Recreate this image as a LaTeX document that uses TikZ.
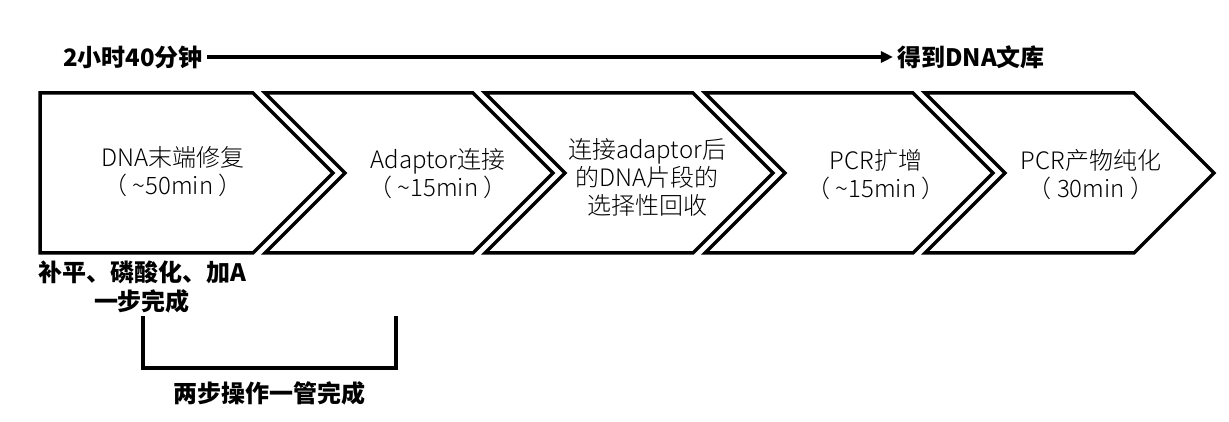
\documentclass[tikz,border=0pt]{standalone}
\usepackage{fontspec}
\setmainfont{Noto Sans CJK SC}
\newfontfamily\lightcjk{Noto Sans CJK SC Light}
\usetikzlibrary{arrows.meta}

\begin{document}
\begin{tikzpicture}[x=1pt,y=-1pt]
        \useasboundingbox (0,0) rectangle (1229,422);
        \begin{scope}[line width=3.5pt, line join=miter, draw=black]
            \draw (40,93) -- (253,93) -- (333,173) -- (253,253) -- (40,253) -- cycle;
            \draw (265,93) -- (473,93) -- (553,173) -- (473,253) -- (265,253) -- (345,173) -- cycle;
            \draw (485,93) -- (693,93) -- (773,173) -- (693,253) -- (485,253) -- (565,173) -- cycle;
            \draw (705,93) -- (913,93) -- (993,173) -- (913,253) -- (705,253) -- (785,173) -- cycle;
            \draw (925,93) -- (1134,93) -- (1214,173) -- (1134,253) -- (925,253) -- (1005,173) -- cycle;
            \draw (143,316) -- (143,368) -- (396,368) -- (396,316);
        \end{scope}
        \begin{scope}[every node/.style={align=center, font=\lightcjk\fontsize{24}{28}\selectfont}]
            \node (s1) at (173,172) {DNA末端修复\\（ \textasciitilde 50min ）};
            \node (s2) at (438,174) {Adaptor连接\\（ \textasciitilde 15min ）};
            \node (s3) at (647,177) {连接adaptor后\\的DNA片段的\\选择性回收};
            \node (s4) at (876,175) {PCR扩增\\（ \textasciitilde 15min ）};
            \node (s5) at (1091,175) {PCR产物纯化\\（ 30min ）};
        \end{scope}
        \begin{scope}[every node/.style={align=center, inner sep=4pt, font=\bfseries\fontsize{24}{29}\selectfont}]
            \node (time) at (133,57) {2小时40分钟};
            \node (result) at (971,57) {得到DNA文库};
            \node (n1) at (142,287) {补平、磷酸化、加A\\一步完成};
            \node (n2) at (269,393) {两步操作一管完成};
        \end{scope}

        \draw [line width=4pt, -{Triangle[length=12pt,width=11pt]}] (time.east) -- (result.west);
    \end{tikzpicture}
\end{document}
